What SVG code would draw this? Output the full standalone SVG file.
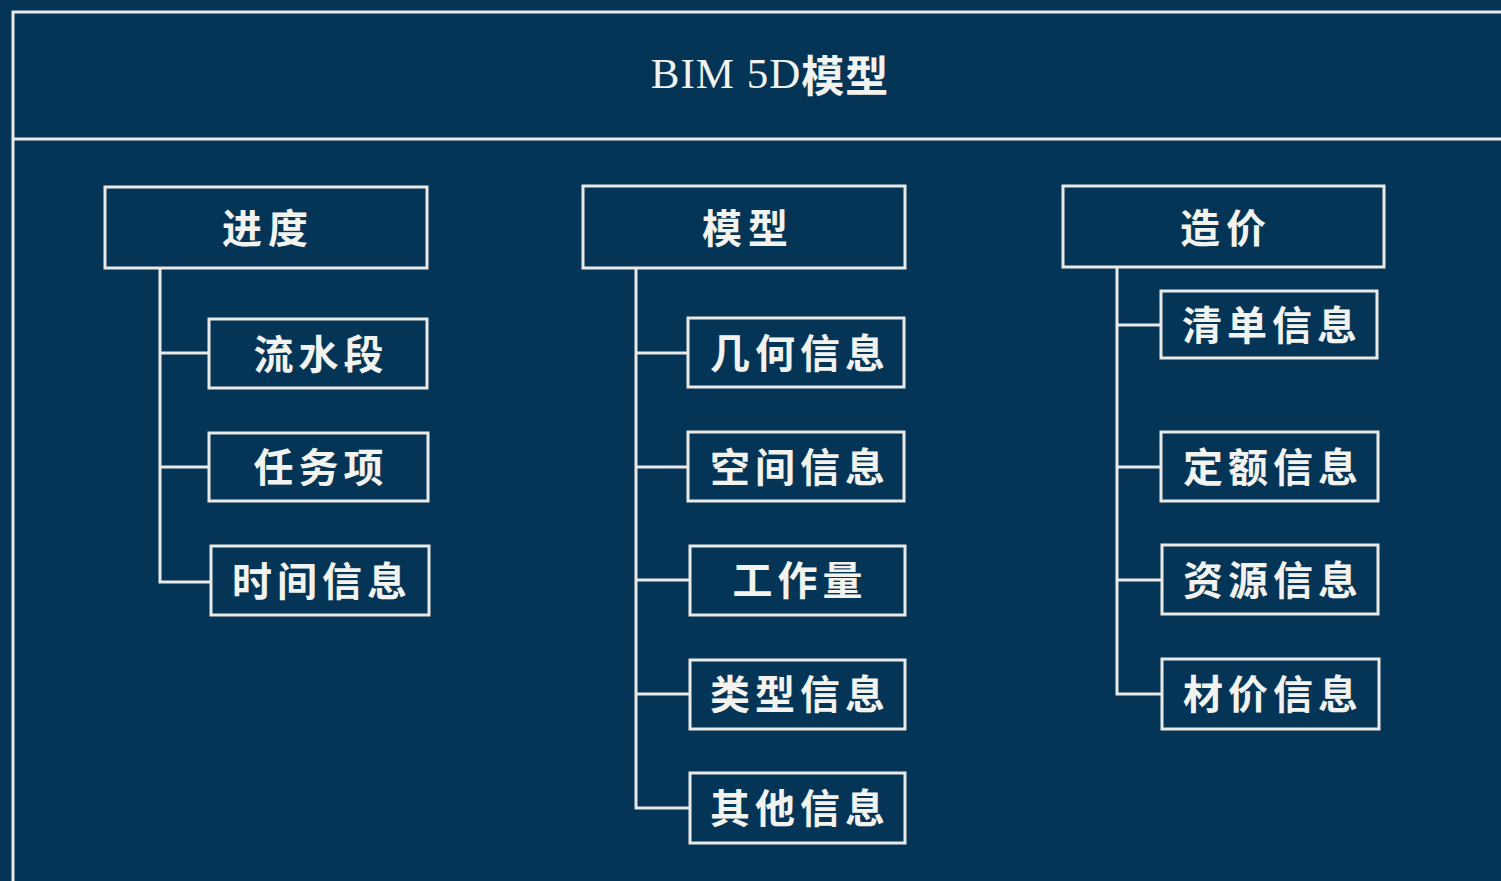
<svg xmlns="http://www.w3.org/2000/svg" width="1501" height="881" viewBox="0 0 1501 881">
<style>
.bg{fill:#053556}
.box{fill:none;stroke:#e9e9e6;stroke-width:3}
.ln{fill:none;stroke:#e9e9e6;stroke-width:3}
.t{fill:#f2f2ee;font-family:"Liberation Serif","Noto Sans CJK SC",serif;font-size:43px;text-anchor:middle;dominant-baseline:central}
.c{fill:#f2f2ee;font-family:"Noto Sans CJK SC",sans-serif;font-size:40px;font-weight:bold;text-anchor:middle;dominant-baseline:central;letter-spacing:5px}
.p{letter-spacing:6px}
</style>
<rect class="bg" x="0" y="0" width="1501" height="881"/>
<g id="frame">
<rect class="box" x="13" y="12" width="1500" height="900"/>
<line class="ln" x1="13" y1="139" x2="1501" y2="139"/>
<text class="t" x="770" y="73" style="letter-spacing:1px">BIM 5D<tspan font-family="Noto Sans CJK SC" font-weight="bold">模型</tspan></text>
</g>
<g id="connectors">
<path class="ln" d="M160 268 V582 H211 M160 353 H209 M160 467 H209"/>
<path class="ln" d="M636 268 V808 H690 M636 353 H688 M636 467 H688 M636 580 H690 M636 694 H690"/>
<path class="ln" d="M1117 267 V694 H1162 M1117 325 H1161 M1117 467 H1161 M1117 580 H1162"/>
</g>
<g id="n-jindu"><rect class="box" x="105" y="187" width="322" height="81"/><text class="c p" x="268" y="226">进度</text></g>
<g id="n-liushuiduan"><rect class="box" x="209" y="319" width="218" height="69"/><text class="c" x="321" y="352">流水段</text></g>
<g id="n-renwuxiang"><rect class="box" x="209" y="433" width="219" height="68"/><text class="c" x="321" y="465">任务项</text></g>
<g id="n-shijian"><rect class="box" x="211" y="546" width="218" height="69"/><text class="c" x="322" y="579">时间信息</text></g>
<g id="n-moxing"><rect class="box" x="583" y="186" width="322" height="82"/><text class="c p" x="748" y="226">模型</text></g>
<g id="n-jihe"><rect class="box" x="688" y="318" width="216" height="69"/><text class="c" x="800" y="351">几何信息</text></g>
<g id="n-kongjian"><rect class="box" x="688" y="432" width="216" height="69"/><text class="c" x="800" y="465">空间信息</text></g>
<g id="n-gongzuoliang"><rect class="box" x="690" y="546" width="215" height="69"/><text class="c" x="800" y="578">工作量</text></g>
<g id="n-leixing"><rect class="box" x="690" y="660" width="215" height="69"/><text class="c" x="800" y="692">类型信息</text></g>
<g id="n-qita"><rect class="box" x="690" y="773" width="215" height="70"/><text class="c" x="800" y="806">其他信息</text></g>
<g id="n-zaojia"><rect class="box" x="1063" y="186" width="321" height="81"/><text class="c p" x="1226" y="226">造价</text></g>
<g id="n-qingdan"><rect class="box" x="1161" y="291" width="216" height="67"/><text class="c" x="1272" y="323">清单信息</text></g>
<g id="n-ding-e"><rect class="box" x="1161" y="432" width="217" height="69"/><text class="c" x="1273" y="465">定额信息</text></g>
<g id="n-ziyuan"><rect class="box" x="1162" y="545" width="216" height="69"/><text class="c" x="1273" y="578">资源信息</text></g>
<g id="n-caijia"><rect class="box" x="1162" y="659" width="217" height="70"/><text class="c" x="1273" y="692">材价信息</text></g>
</svg>
